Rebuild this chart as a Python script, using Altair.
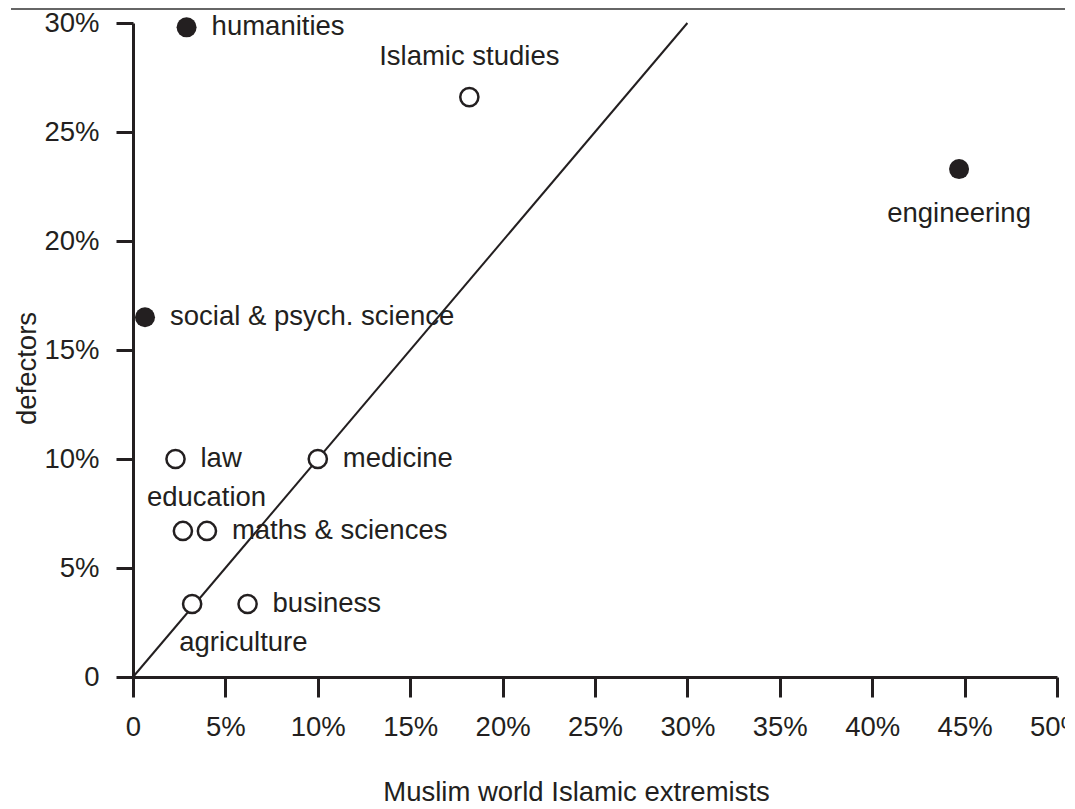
import altair as alt
import pandas as pd

# ---- data ----
fields = ["humanities", "Islamic studies", "engineering", "social & psych. science",
          "law", "medicine", "education", "maths & sciences", "agriculture", "business"]
extremists = [2.9, 18.2, 44.7, 0.65, 2.3, 10.0, 2.7, 4.0, 3.2, 6.2]
defectors = [29.8, 26.6, 23.3, 16.5, 10.0, 10.0, 6.7, 6.7, 3.35, 3.35]
filled = [True, False, True, True, False, False, False, False, False, False]
label_pos = ["right", "above", "below", "right", "right", "right",
             "upleft", "right", "downleft", "right"]

x_ticks = [0, 5, 10, 15, 20, 25, 30, 35, 40, 45, 50]
y_ticks = [0, 5, 10, 15, 20, 25, 30]
line_x = [0, 30]
line_y = [0, 30]

INK = "#231f20"
FONT = "Liberation Sans"
FS = 27.5

df = pd.DataFrame({"field": fields, "x": extremists, "y": defectors,
                   "filled": filled, "pos": label_pos})
line_df = pd.DataFrame({"x": line_x, "y": line_y})

xscale = alt.Scale(domain=[0, 50], nice=False, zero=False)
yscale = alt.Scale(domain=[0, 30], nice=False, zero=False)
label_expr = "datum.value == 0 ? '0' : datum.value + '%'"

x_axis = alt.Axis(values=x_ticks, labelExpr=label_expr, grid=False,
                  tickSize=20, tickWidth=3, tickColor=INK,
                  domainColor=INK, domainWidth=3,
                  labelFont=FONT, labelFontSize=FS, labelColor=INK,
                  labelBaseline="middle", labelPadding=30,
                  labelFlush=False, labelOverlap=False, labelBound=False,
                  title="Muslim world Islamic extremists",
                  titleFont=FONT, titleFontSize=FS, titleFontWeight="normal",
                  titleColor=INK, titleX=443, titleY=115,
                  titleAlign="center", titleBaseline="middle")
y_axis = alt.Axis(values=y_ticks, labelExpr=label_expr, grid=False,
                  tickSize=17, tickWidth=3, tickColor=INK,
                  domainColor=INK, domainWidth=3,
                  labelFont=FONT, labelFontSize=FS, labelColor=INK,
                  labelPadding=17, labelFlush=False, labelOverlap=False,
                  title="defectors",
                  titleFont=FONT, titleFontSize=FS, titleFontWeight="normal",
                  titleColor=INK, titleX=-106, titleY=345, titleAngle=-90,
                  titleAlign="center", titleBaseline="middle")

line = alt.Chart(line_df).mark_line(color=INK, strokeWidth=2).encode(
    x=alt.X("x:Q", scale=xscale, axis=x_axis),
    y=alt.Y("y:Q", scale=yscale, axis=y_axis),
)

# thin grey frame line across the top of the page
top_rule = alt.Chart(line_df.head(1)).mark_rect(color="#666666").encode(
    x=alt.value(-122), x2=alt.value(960), y=alt.value(-15), y2=alt.value(-13)
)

base = alt.Chart(df).encode(
    x=alt.X("x:Q", scale=xscale, axis=None),
    y=alt.Y("y:Q", scale=yscale, axis=None),
)

open_pts = base.transform_filter("!datum.filled").mark_point(
    shape="circle", filled=True, fill="white", stroke=INK, strokeWidth=2.5,
    size=330, opacity=1)
solid_pts = base.transform_filter("datum.filled").mark_point(
    shape="circle", filled=True, color=INK, size=400, opacity=1)

def labels(pos, **kw):
    return base.transform_filter(f"datum.pos == '{pos}'").mark_text(
        font=FONT, fontSize=FS, color=INK, baseline="middle", **kw
    ).encode(text="field:N")

lab_right = labels("right", align="left", dx=25)
lab_above = labels("above", align="center", dy=-40)
lab_below = labels("below", align="center", dy=45)
lab_upleft = labels("upleft", align="left", dx=-36, dy=-33)
lab_downleft = labels("downleft", align="left", dx=-13, dy=39)

chart = alt.layer(
    line, open_pts, solid_pts,
    lab_right, lab_above, lab_below, lab_upleft, lab_downleft, top_rule
).resolve_axis(x="independent", y="independent").properties(
    width=924, height=654,
    autosize=alt.AutoSizeParams(type="none"),
    padding={"left": 125, "top": 15, "right": 8, "bottom": 132},
).configure_view(stroke=None)

chart.save("out.html", embed_options={"renderer": "svg", "actions": False})
